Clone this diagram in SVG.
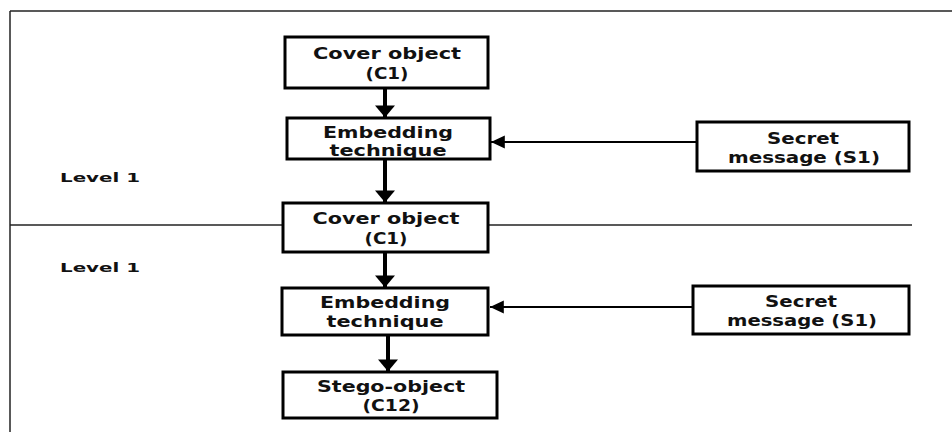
<svg xmlns="http://www.w3.org/2000/svg" width="952" height="432" viewBox="0 0 952 432">
<style>
.box{fill:#fff;stroke:#000;stroke-width:3}
.t{font-family:"DejaVu Sans",Verdana,sans-serif;font-weight:bold;font-size:15px;fill:#111;text-anchor:middle}
.lv{font-family:"DejaVu Sans",Verdana,sans-serif;font-weight:bold;font-size:13px;fill:#111}
.c{stroke:#000;fill:none}
</style>
<defs>
<marker id="ah" markerWidth="3" markerHeight="5" refX="2.9" refY="2.5" orient="auto" markerUnits="strokeWidth"><path d="M0,0 L3,2.5 L0,5 Z" fill="#000"/></marker>
<marker id="ahs" markerWidth="7" markerHeight="7" refX="6.9" refY="3.5" orient="auto" markerUnits="strokeWidth"><path d="M0,0.3 L7,3.5 L0,6.7 Z" fill="#000"/></marker>
</defs>
<rect x="0" y="0" width="952" height="432" fill="#fff"/>
<g id="frame" stroke="#222" stroke-width="1.5"><line x1="10" y1="11" x2="952" y2="11"/><line x1="10" y1="11" x2="10" y2="432"/></g>
<g id="divider"><line x1="10" y1="225" x2="912" y2="225" stroke="#222" stroke-width="1.5"/></g>
<g id="connectors">
<line class="c" x1="385" y1="89" x2="385" y2="117" stroke-width="4" marker-end="url(#ah)"/>
<line class="c" x1="385" y1="160" x2="385" y2="202" stroke-width="4" marker-end="url(#ah)"/>
<line class="c" x1="385" y1="253" x2="385" y2="287" stroke-width="4" marker-end="url(#ah)"/>
<line class="c" x1="388" y1="336" x2="388" y2="371" stroke-width="4" marker-end="url(#ah)"/>
<line class="c" x1="697" y1="142" x2="491" y2="142" stroke-width="2" marker-end="url(#ahs)"/>
<line class="c" x1="693" y1="307" x2="490" y2="307" stroke-width="2" marker-end="url(#ahs)"/>
</g>
<g id="cover1"><rect class="box" x="285" y="37" width="203" height="51"/><text class="t" x="387" y="59" textLength="148" lengthAdjust="spacingAndGlyphs">Cover object</text><text class="t" x="387" y="79" textLength="43" lengthAdjust="spacingAndGlyphs">(C1)</text></g>
<g id="embed1"><rect class="box" x="287" y="118" width="203" height="41"/><text class="t" x="388" y="138" textLength="130" lengthAdjust="spacingAndGlyphs">Embedding</text><text class="t" x="388" y="156" textLength="117" lengthAdjust="spacingAndGlyphs">technique</text></g>
<g id="secret1"><rect class="box" x="697" y="122" width="212" height="49"/><text class="t" x="803" y="144" textLength="72" lengthAdjust="spacingAndGlyphs">Secret</text><text class="t" x="804" y="163" textLength="152" lengthAdjust="spacingAndGlyphs">message (S1)</text></g>
<g id="cover2"><rect class="box" x="283" y="203" width="205" height="49"/><text class="t" x="386" y="224" textLength="147" lengthAdjust="spacingAndGlyphs">Cover object</text><text class="t" x="386" y="244" textLength="43" lengthAdjust="spacingAndGlyphs">(C1)</text></g>
<g id="embed2"><rect class="box" x="282" y="288" width="206" height="47"/><text class="t" x="385" y="308" textLength="130" lengthAdjust="spacingAndGlyphs">Embedding</text><text class="t" x="385" y="327" textLength="117" lengthAdjust="spacingAndGlyphs">technique</text></g>
<g id="secret2"><rect class="box" x="693" y="286" width="216" height="48"/><text class="t" x="801" y="307" textLength="72" lengthAdjust="spacingAndGlyphs">Secret</text><text class="t" x="802" y="326" textLength="150" lengthAdjust="spacingAndGlyphs">message (S1)</text></g>
<g id="stego"><rect class="box" x="283" y="372" width="214" height="46"/><text class="t" x="391" y="392" textLength="148" lengthAdjust="spacingAndGlyphs">Stego-object</text><text class="t" x="391" y="411" textLength="57" lengthAdjust="spacingAndGlyphs">(C12)</text></g>
<text class="lv" x="60" y="182" textLength="80" lengthAdjust="spacingAndGlyphs">Level 1</text>
<text class="lv" x="60" y="272" textLength="80" lengthAdjust="spacingAndGlyphs">Level 1</text>
</svg>
